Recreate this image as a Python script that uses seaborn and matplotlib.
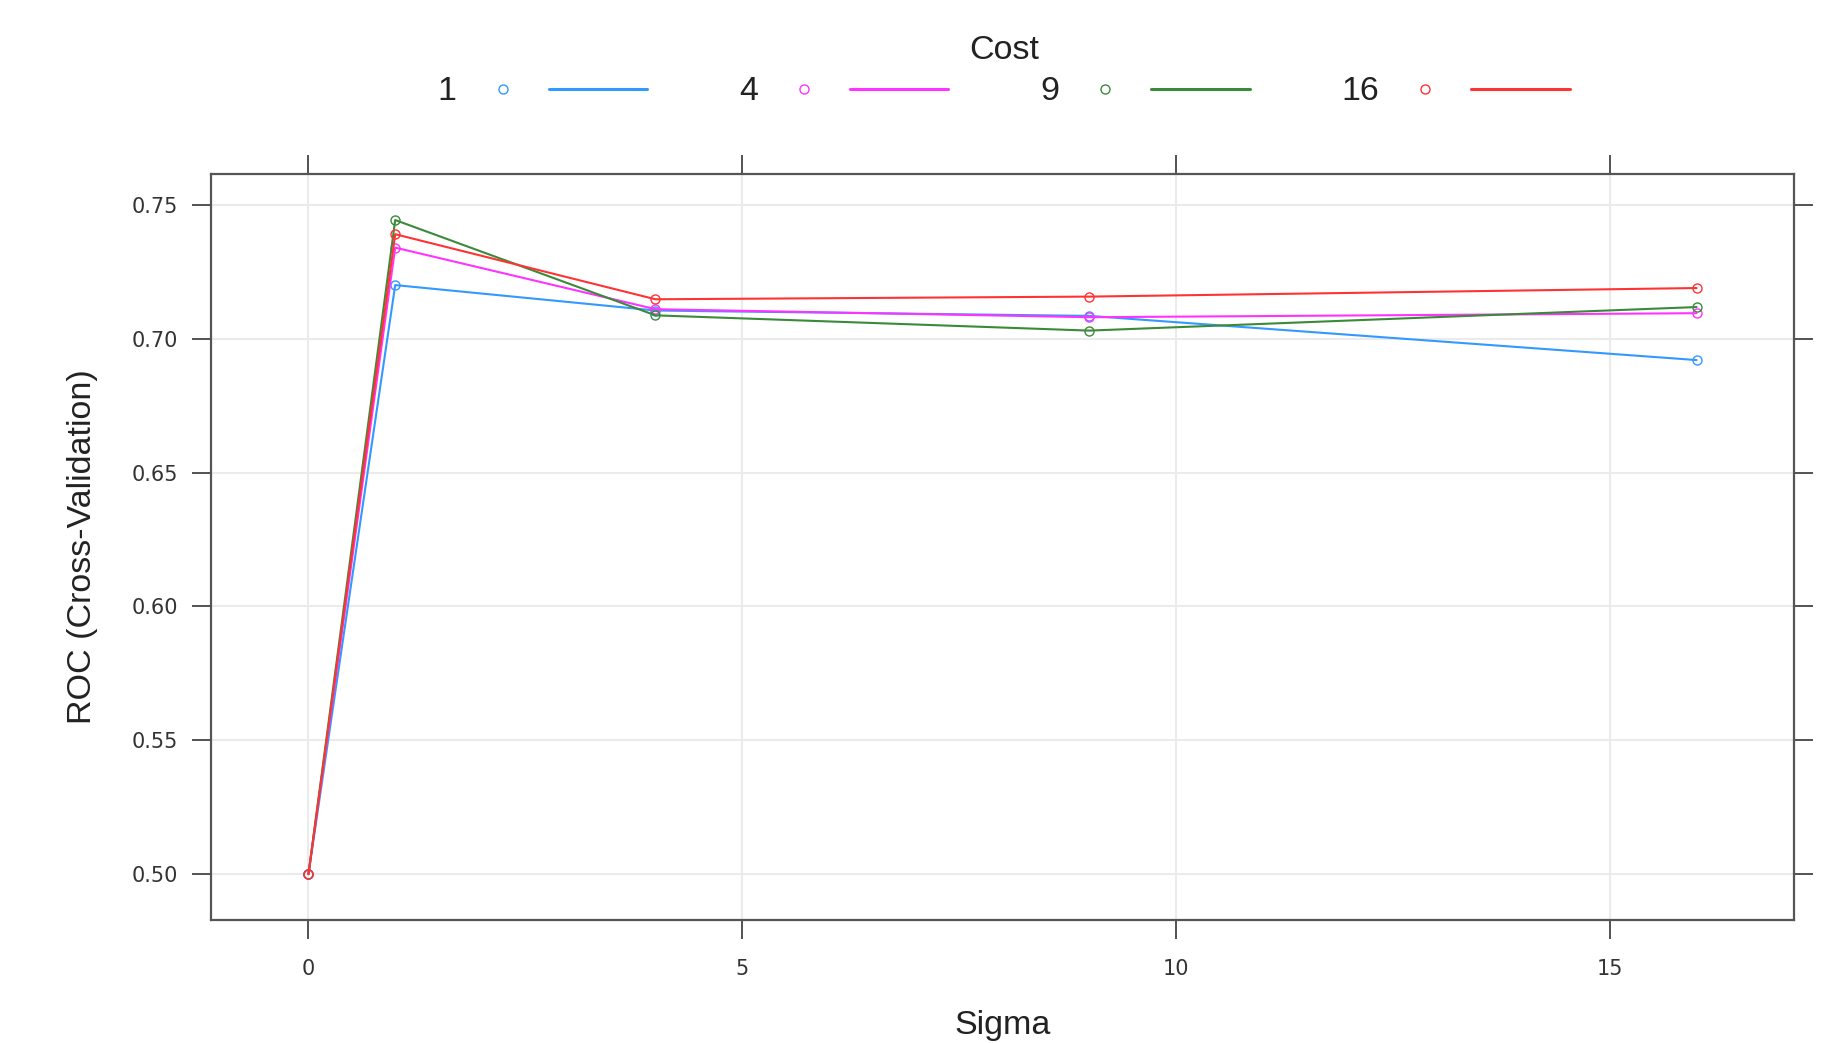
import pandas as pd
import matplotlib
matplotlib.use('Agg')
import matplotlib.pyplot as plt
from matplotlib.lines import Line2D
from matplotlib.legend_handler import HandlerBase
import seaborn as sns

# values (ROC by Sigma, one series per Cost)
sigma = [0, 1, 4, 9, 16]
cost_levels = [1, 4, 9, 16]
roc_c1 = [0.500, 0.7200, 0.7105, 0.7085, 0.6920]
roc_c4 = [0.500, 0.7340, 0.7110, 0.7080, 0.7095]
roc_c9 = [0.500, 0.7443, 0.7087, 0.7030, 0.7118]
roc_c16 = [0.500, 0.7390, 0.7147, 0.7157, 0.7189]
line_colors = ['#3399ff', '#ff33ff', '#3a8a3a', '#ff3333']
x_ticks = [0, 5, 10, 15]
y_ticks = [0.50, 0.55, 0.60, 0.65, 0.70, 0.75]

rows = []
for cost, vals in zip(cost_levels, [roc_c1, roc_c4, roc_c9, roc_c16]):
    for s, v in zip(sigma, vals):
        rows.append({'Sigma': s, 'ROC': v, 'Cost': cost})
df = pd.DataFrame(rows)
palette = dict(zip(cost_levels, line_colors))

sns.set_theme(style='whitegrid')
plt.rcParams['font.family'] = ['Liberation Sans', 'DejaVu Sans']
plt.rcParams['axes.edgecolor'] = '#555555'
plt.rcParams['grid.color'] = '#ebebeb'
plt.rcParams['grid.linewidth'] = 1.5

fig = plt.figure(figsize=(18.42, 10.43), dpi=100)
ax = fig.add_axes([0.1147, 0.1180, 0.8591, 0.7152])

sns.lineplot(data=df, x='Sigma', y='ROC', hue='Cost', palette=palette,
             marker='o', markersize=6.5, linewidth=1.5, errorbar=None,
             legend=False, ax=ax)
for ln in ax.get_lines():
    ln.set_markerfacecolor('none')
    ln.set_markeredgecolor(ln.get_color())
    ln.set_markeredgewidth(1.0)

ax.set_xlim(-1.12, 17.12)
ax.set_ylim(0.4829, 0.7615)
ax.set_xticks(x_ticks)
ax.set_yticks(y_ticks)
ax.set_xticklabels([str(t) for t in x_ticks])
ax.set_yticklabels([f'{t:.2f}' for t in y_ticks])
ax.tick_params(axis='both', which='major', direction='out', length=14, width=1.3,
               color='#444444', labelsize=15, labelcolor='#333333',
               top=True, right=True, left=True, bottom=True)
ax.tick_params(axis='x', pad=14)
ax.tick_params(axis='y', pad=10)
for lab in ax.get_xticklabels() + ax.get_yticklabels():
    lab.set_fontfamily('DejaVu Sans')
for sp in ax.spines.values():
    sp.set_linewidth(1.6)
    sp.set_color('#555555')
ax.grid(True, color='#ebebeb', linewidth=1.5)

ax.set_xlabel('Sigma', fontsize=24.5, color='#222222', va='center')
ax.xaxis.set_label_coords(0.5, -0.141)
ax.set_ylabel('ROC (Cross-Validation)', fontsize=24.5, color='#222222', va='center')
ax.yaxis.set_label_coords(-0.0815, 0.5)


class PointThenLine(HandlerBase):
    def create_artists(self, legend, orig_handle, xdescent, ydescent,
                       width, height, fontsize, trans):
        y = height / 2 - ydescent
        c = orig_handle.get_color()
        pt = Line2D([-xdescent + 0.076 * width], [y], marker='o', ls='none',
                    mfc='none', mec=c, ms=6.5, mew=1.0)
        ln = Line2D([-xdescent + 0.37 * width, -xdescent + width], [y, y],
                    color=c, lw=2.2)
        pt.set_transform(trans)
        ln.set_transform(trans)
        return [pt, ln]


handles = [Line2D([], [], color=c) for c in line_colors]
labels = [str(c) for c in cost_levels]
leg = fig.legend(handles, labels, ncol=4, loc='center',
                 bbox_to_anchor=(0.545, 0.9316), frameon=False,
                 title='Cost', markerfirst=False, handlelength=4.6,
                 handletextpad=1.0, columnspacing=2.7, labelspacing=0.3,
                 borderpad=0.2, handler_map={Line2D: PointThenLine()},
                 prop={'size': 24.5}, title_fontsize=24.5)
for t in leg.get_texts():
    t.set_color('#222222')
leg.get_title().set_color('#222222')

fig.savefig('out.png', dpi=100)
